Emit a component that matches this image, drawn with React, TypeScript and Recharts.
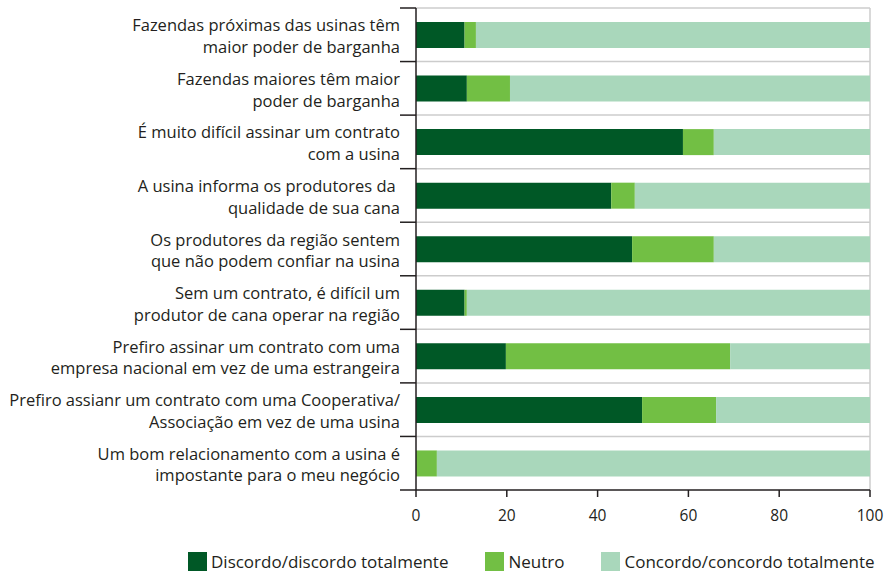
import React from 'react';
import { BarChart, Bar, XAxis, YAxis, CartesianGrid } from 'recharts';

const categories = [
  'Fazendas próximas das usinas têm\nmaior poder de barganha',
  'Fazendas maiores têm maior\npoder de barganha',
  'É muito difícil assinar um contrato\ncom a usina',
  'A usina informa os produtores da \nqualidade de sua cana',
  'Os produtores da região sentem\nque não podem confiar na usina',
  'Sem um contrato, é difícil um\nprodutor de cana operar na região',
  'Prefiro assinar um contrato com uma\nempresa nacional em vez de uma estrangeira',
  'Prefiro assianr um contrato com uma Cooperativa/\nAssociação em vez de uma usina',
  'Um bom relacionamento com a usina é\nimpostante para o meu negócio',
];
const discordo = [10.7, 11.2, 58.8, 43.0, 47.6, 10.7, 19.8, 49.8, 0];
const neutro = [2.5, 9.5, 6.8, 5.2, 18.0, 0.5, 49.4, 16.3, 4.6];
const concordo = [86.8, 79.3, 34.4, 51.8, 34.4, 88.8, 30.8, 33.9, 95.4];
const xTicks = [0, 20, 40, 60, 80, 100];
const seriesKeys = ['discordo', 'neutro', 'concordo'];
const seriesNames = ['Discordo/discordo totalmente', 'Neutro', 'Concordo/concordo totalmente'];
const seriesColors = ['#005826', '#72bf44', '#a9d7bb'];

const data = categories.map((name, i) => ({
  name,
  discordo: discordo[i],
  neutro: neutro[i],
  concordo: concordo[i],
}));

const FONT = '"Open Sans", sans-serif';
const INK = '#231f20';

const YTick = (props: any) => {
  const { x, y, payload, index, visibleTicksCount, height } = props;
  const band = (height && visibleTicksCount ? height / visibleTicksCount : 481 / 9);
  const lines = String(payload.value).split('\n');
  return (
    <g>
      <line x1={x - 16} x2={x} y1={y - band / 2} y2={y - band / 2} stroke={INK} strokeWidth={1.5} />
      {index === visibleTicksCount - 1 && (
        <line x1={x - 16} x2={x} y1={y + band / 2} y2={y + band / 2} stroke={INK} strokeWidth={1.5} />
      )}
      <text x={x - 16} y={y} textAnchor="end" fontSize={16.5} fill={INK} fontFamily={FONT} style={{ whiteSpace: 'pre' }}>
        {lines.map((l, i) => (
          <tspan key={i} x={x - 16} y={y - 3.5 + i * 21.7}>{l}</tspan>
        ))}
      </text>
    </g>
  );
};

export default function App() {
  return (
    <div style={{ position: 'absolute', left: 0, top: 0, width: 887, height: 573, background: '#fff' }}>
      <BarChart
        width={887}
        height={573}
        data={data}
        layout="vertical"
        margin={{ top: 8, right: 17, left: 0, bottom: 0 }}
      >
        <CartesianGrid
          stroke="#cccccc"
          strokeWidth={1.5}
          horizontalCoordinatesGenerator={({ offset }: any) =>
            Array.from({ length: categories.length }, (_, i) => offset.top + (i * offset.height) / categories.length)
          }
          verticalCoordinatesGenerator={({ offset }: any) => [offset.left + offset.width]}
        />
        <XAxis
          type="number"
          domain={[0, 100]}
          ticks={xTicks}
          height={83}
          axisLine={{ stroke: INK, strokeWidth: 1.5 }}
          tickLine={{ stroke: INK, strokeWidth: 1.5 }}
          tickSize={7}
          tickMargin={13}
          tick={{ fontSize: 15.5, fill: INK, fontFamily: FONT }}
        />
        <YAxis
          type="category"
          dataKey="name"
          width={416}
          interval={0}
          axisLine={{ stroke: INK, strokeWidth: 1.5 }}
          tickLine={false}
          tickSize={0}
          tickMargin={0}
          tick={<YTick />}
        />
        {seriesKeys.map((k, i) => (
          <Bar key={k} dataKey={k} name={seriesNames[i]} stackId="a" fill={seriesColors[i]} barSize={26} isAnimationActive={false} />
        ))}
      </BarChart>
      <div
        style={{
          position: 'absolute',
          left: 188,
          top: 552,
          display: 'flex',
          alignItems: 'center',
          gap: 37,
          fontFamily: FONT,
          fontSize: 17,
          color: INK,
          lineHeight: '19px',
          whiteSpace: 'nowrap',
        }}
      >
        {seriesNames.map((n, i) => (
          <div key={n} style={{ display: 'flex', alignItems: 'center' }}>
            <span style={{ display: 'inline-block', width: 19, height: 19, background: seriesColors[i], marginRight: 4 }} />
            <span>{n}</span>
          </div>
        ))}
      </div>
    </div>
  );
}
